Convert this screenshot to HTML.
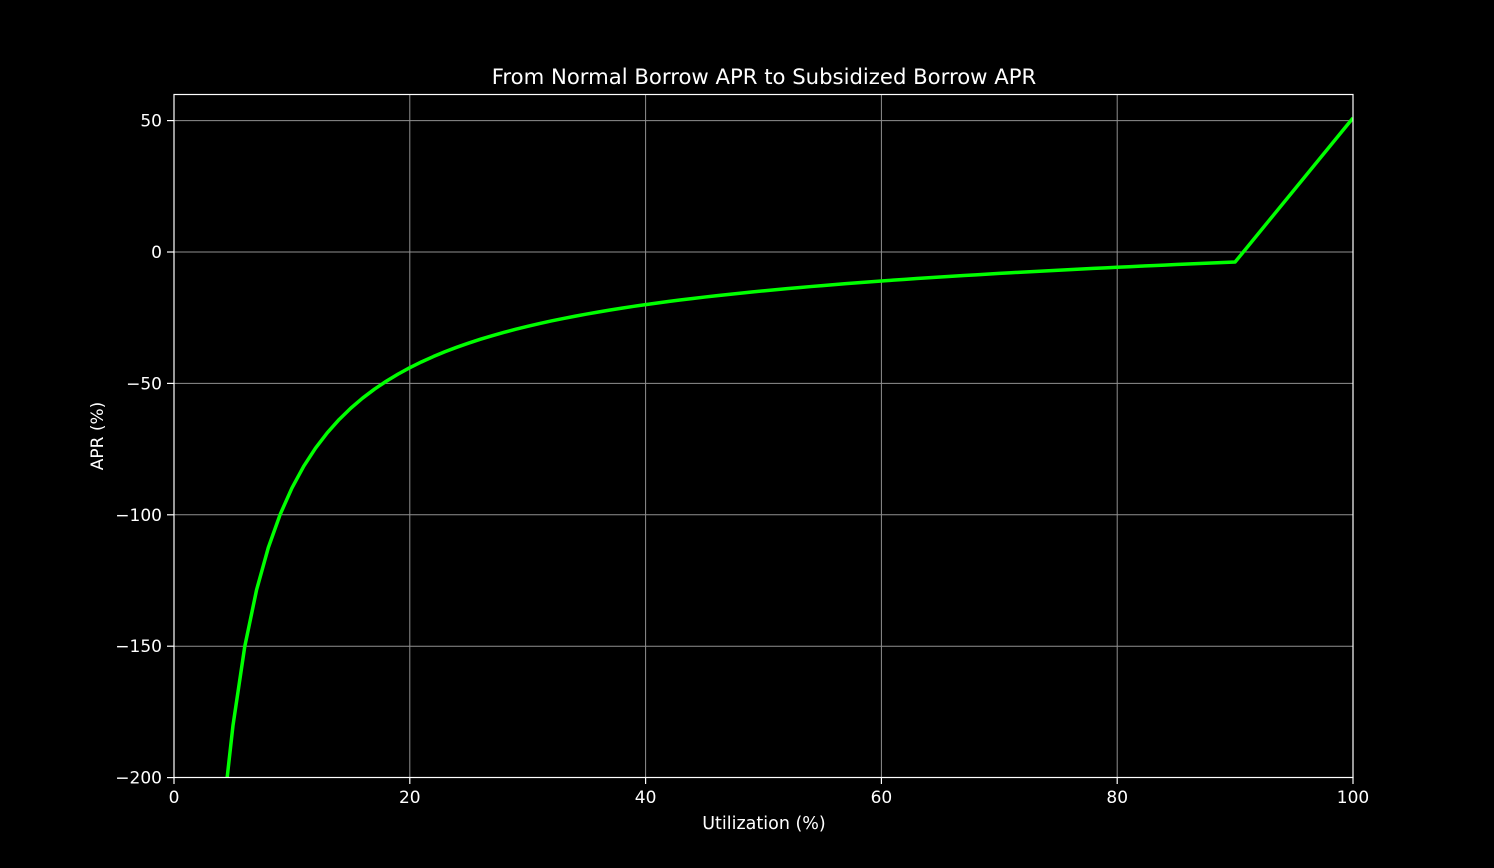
<!DOCTYPE html>
<html><head><meta charset="utf-8"><style>
html,body{margin:0;padding:0;background:#000;overflow:hidden;width:1494px;height:868px;}
svg{display:block;}
svg text{font-family:"DejaVu Sans","Liberation Sans",sans-serif;fill:#fff;}
</style></head><body>
<svg id="s" width="1494" height="868" xmlns="http://www.w3.org/2000/svg">
<rect width="1494" height="868" fill="#000"/>
<g id="grid" stroke="#aaa" stroke-width="1" opacity="0.85"></g>
<defs><clipPath id="c"><rect x="174" y="94" width="1179" height="683.5"/></clipPath></defs>
<path id="curve" clip-path="url(#c)" fill="none" stroke="#00ff00" stroke-width="3.5" stroke-linejoin="round"/>
<rect x="174" y="94.5" width="1179" height="683" fill="none" stroke="#fff" stroke-width="1.2"/>
<g id="ticks" stroke="#fff" stroke-width="1.2"></g>
<g id="labels" font-size="17"></g>
<text x="764" y="84" font-size="21.2" text-anchor="middle">From Normal Borrow APR to Subsidized Borrow APR</text>
<text x="764" y="829" font-size="17.5" text-anchor="middle">Utilization (%)</text>
<text transform="translate(103,436) rotate(-90)" font-size="17" text-anchor="middle">APR (%)</text>
</svg>
<script>
var X=function(x){return 174+x*11.79;};
var Y=function(y){return 252-y*2.628;};
var g=document.getElementById('grid'),t=document.getElementById('ticks'),l=document.getElementById('labels');
var ns='http://www.w3.org/2000/svg';
function el(p,n,a,txt){var e=document.createElementNS(ns,n);for(var k in a)e.setAttribute(k,a[k]);if(txt!=null)e.textContent=txt;p.appendChild(e);}
[0,20,40,60,80,100].forEach(function(v){var x=X(v);
 if(v>0&&v<100)el(g,'line',{x1:x,x2:x,y1:94,y2:777});
 el(t,'line',{x1:x,x2:x,y1:777,y2:784});
 el(l,'text',{x:x,y:803,'text-anchor':'middle'},String(v));});
[50,0,-50,-100,-150,-200].forEach(function(v){var y=Y(v);
 if(v>-200)el(g,'line',{x1:174,x2:1353,y1:y,y2:y});
 el(t,'line',{x1:167,x2:174,y1:y,y2:y});
 el(l,'text',{x:162,y:y+6,'text-anchor':'end'},(v<0?'\u2212'+(-v):String(v)));});
function f(x){return 0.0738*x-901/x-0.45;}
var d='M'+X(4.5)+','+Y(f(4.5));
for(var x=5;x<=90;x++)d+=' L'+X(x).toFixed(2)+','+Y(f(x)).toFixed(2);
d+=' L'+X(100)+','+Y(51);
document.getElementById('curve').setAttribute('d',d);
</script>
</body></html>
